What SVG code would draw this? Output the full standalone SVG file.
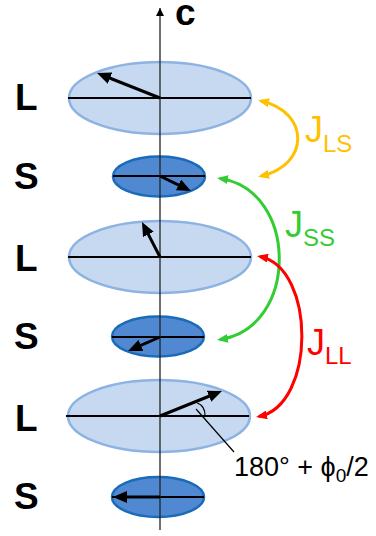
<svg xmlns="http://www.w3.org/2000/svg" width="376" height="536" viewBox="0 0 376 536">
<style>
.lg{fill:#c6d9f1;stroke:#8db3e2;stroke-width:2.5}
.sm{fill:#5088d2;stroke:#1a6bb8;stroke-width:2.5}
.hl{stroke:#000;stroke-width:2}
.vec{stroke:#000;stroke-width:3;fill:none;marker-end:url(#vh)}
.lab{font-family:"Liberation Sans",Arial,sans-serif;font-weight:bold;font-size:37px;fill:#000}
.j{font-family:"Liberation Sans",Arial,sans-serif;font-size:36px}
.cur{fill:none;stroke-width:3}
</style>
<defs>
<marker id="vh" markerUnits="userSpaceOnUse" markerWidth="14" markerHeight="12" refX="10" refY="6" orient="auto"><path d="M0,0 L14,6 L0,12 z" fill="#000"/></marker>
<marker id="ax" markerUnits="userSpaceOnUse" markerWidth="8" markerHeight="10" refX="8" refY="4" orient="auto"><path d="M0,0 L8,4 L0,8 z" fill="#000"/></marker>
<marker id="mo" markerUnits="userSpaceOnUse" markerWidth="11" markerHeight="9" refX="8" refY="4.5" orient="auto-start-reverse"><path d="M0,0 L11,4.5 L0,9 z" fill="#ffc000"/></marker>
<marker id="mg" markerUnits="userSpaceOnUse" markerWidth="11" markerHeight="9" refX="8" refY="4.5" orient="auto-start-reverse"><path d="M0,0 L11,4.5 L0,9 z" fill="#33cc33"/></marker>
<marker id="mr" markerUnits="userSpaceOnUse" markerWidth="11" markerHeight="9" refX="8" refY="4.5" orient="auto-start-reverse"><path d="M0,0 L11,4.5 L0,9 z" fill="#ff0000"/></marker>
</defs>
<g id="L1">
<ellipse class="lg" cx="160" cy="98" rx="91" ry="36"/>
<line class="hl" x1="68" y1="98" x2="251" y2="98"/>
<text class="lab" x="15" y="110">L</text>
</g>
<g id="S1">
<ellipse class="sm" cx="159" cy="176.5" rx="46" ry="20"/>
<line class="hl" x1="113" y1="176" x2="205" y2="176"/>
<text class="lab" x="14" y="189">S</text>
</g>
<g id="L2">
<ellipse class="lg" cx="160" cy="257" rx="91" ry="36"/>
<line class="hl" x1="68" y1="257" x2="251" y2="257"/>
<text class="lab" x="15" y="271">L</text>
</g>
<g id="S2">
<ellipse class="sm" cx="158" cy="336.5" rx="46" ry="20"/>
<line class="hl" x1="112" y1="337" x2="204" y2="337"/>
<text class="lab" x="14" y="349">S</text>
</g>
<g id="L3">
<ellipse class="lg" cx="159" cy="416" rx="91" ry="36"/>
<line class="hl" x1="66" y1="416" x2="249" y2="416"/>
<text class="lab" x="15" y="431">L</text>
</g>
<g id="S3">
<ellipse class="sm" cx="158" cy="497" rx="46" ry="20"/>
<line class="hl" x1="112" y1="497" x2="204" y2="497"/>
<text class="lab" x="14" y="509">S</text>
</g>
<g id="axis">
<line x1="160" y1="530" x2="160" y2="8" stroke="#222" stroke-width="1.3" marker-end="url(#ax)"/>
<text class="lab" x="175" y="25" font-size="33">c</text>
</g>
<g id="spins">
<line class="vec" x1="160" y1="98" x2="100.7" y2="74.5"/>
<line class="vec" x1="160" y1="176" x2="187.4" y2="189.3"/>
<line class="vec" x1="160" y1="257" x2="143.8" y2="225.6"/>
<line class="vec" x1="160" y1="337" x2="131.7" y2="349.4"/>
<line class="vec" x1="160" y1="416" x2="218.3" y2="392.5"/>
<line class="vec" x1="160" y1="497" x2="117" y2="497"/>
</g>
<g id="angle">
<path d="M197,403 A10,12 0 0 1 205,416" fill="none" stroke="#000" stroke-width="1.2"/>
<line x1="196" y1="409" x2="234" y2="452" stroke="#000" stroke-width="1.2"/>
<text font-family="'Liberation Sans',Arial,sans-serif" font-size="27" x="234" y="476">180° + ϕ<tspan font-size="19" dy="6">0</tspan><tspan dy="-6">/2</tspan></text>
</g>
<g id="connectors">
<path class="cur" stroke="#ffc000" d="M261,101 C310,112 310,165 261,176" marker-start="url(#mo)" marker-end="url(#mo)"/>
<path class="cur" stroke="#33cc33" d="M220,178.5 C299,190 299,328 220,339.5" marker-start="url(#mg)" marker-end="url(#mg)"/>
<path class="cur" stroke="#ff0000" d="M260,256.5 C316,268 316,405 259,416.5" marker-start="url(#mr)" marker-end="url(#mr)"/>
</g>
<g id="labels">
<text class="j" fill="#ffc000" x="305" y="142">J<tspan font-size="24" dy="9.5">LS</tspan></text>
<text class="j" fill="#33cc33" x="285" y="237">J<tspan font-size="24" dy="8.5">SS</tspan></text>
<text class="j" fill="#ff0000" x="307" y="355">J<tspan font-size="24" dy="8.5">LL</tspan></text>
</g>
</svg>
